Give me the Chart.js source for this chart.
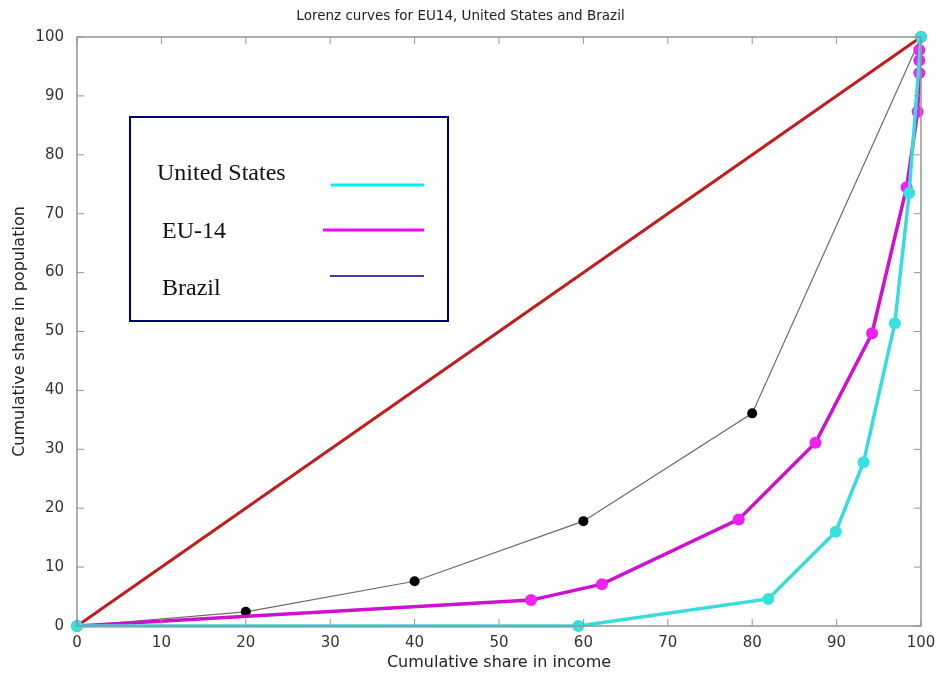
<!DOCTYPE html>
<html>
<head>
<meta charset="utf-8">
<script src="https://cdn.jsdelivr.net/npm/chart.js@4/dist/chart.umd.min.js"></script>
<style>
  html, body { margin: 0; padding: 0; background: #fff; }
  #wrap { width: 938px; height: 677px; }
</style>
</head>
<body>
<div id="wrap"><canvas id="lorenz" width="938" height="677"></canvas></div>
<script>
// ---- data ----
const usIncome   = [0, 59.4, 81.9, 89.9, 93.2, 96.9, 98.6, 100];
const usPop      = [0, 0, 4.6, 16.0, 27.8, 51.4, 73.5, 100];
const euIncome   = [0, 53.8, 62.2, 78.4, 87.5, 94.2, 98.3, 99.6, 99.8, 99.8, 99.8, 100];
const euPop      = [0, 4.4, 7.1, 18.1, 31.1, 49.7, 74.5, 87.3, 93.9, 96.0, 97.8, 100];
const brIncome   = [0, 20, 40, 60, 80, 100];
const brPop      = [0, 2.4, 7.6, 17.8, 36.1, 100];
const eqIncome   = [0, 100];
const eqPop      = [0, 100];
const axisTicks  = [0, 10, 20, 30, 40, 50, 60, 70, 80, 90, 100];
const legendItems = ['United States', 'EU-14', 'Brazil'];

const pts = (xs, ys) => xs.map((x, i) => ({ x, y: ys[i] }));

// box around the plot + inward ticks, matlab style
const axesBox = {
  id: 'axesBox',
  afterDraw(chart) {
    const { ctx, chartArea: a, scales } = chart;
    ctx.save();
    ctx.strokeStyle = '#959595';
    ctx.lineWidth = 1.5;
    ctx.strokeRect(a.left, a.top, a.right - a.left, a.bottom - a.top);
    ctx.lineWidth = 1;
    axisTicks.forEach(t => {
      const px = scales.x.getPixelForValue(t);
      const py = scales.y.getPixelForValue(t);
      ctx.beginPath();
      ctx.moveTo(px, a.bottom); ctx.lineTo(px, a.bottom - 7);
      ctx.moveTo(px, a.top); ctx.lineTo(px, a.top + 7);
      ctx.moveTo(a.left, py); ctx.lineTo(a.left + 7, py);
      ctx.moveTo(a.right, py); ctx.lineTo(a.right - 7, py);
      ctx.stroke();
    });
    ctx.restore();
  }
};

// the boxed legend with serif text
const boxLegend = {
  id: 'boxLegend',
  afterDraw(chart) {
    const { ctx } = chart;
    ctx.save();
    ctx.fillStyle = '#fff';
    ctx.fillRect(130, 117, 318, 204);
    ctx.strokeStyle = '#00007a';
    ctx.lineWidth = 2;
    ctx.strokeRect(130, 117, 318, 204);
    ctx.fillStyle = '#111';
    ctx.font = '24px "Liberation Serif", "Times New Roman", serif';
    ctx.textBaseline = 'alphabetic';
    const rows = [
      { y: 180, tx: 157, lx0: 331, ly: 185, color: '#00f0f0', w: 3 },
      { y: 238, tx: 162, lx0: 323, ly: 230, color: '#ff00ff', w: 3 },
      { y: 295, tx: 162, lx0: 330, ly: 276, color: '#000080', w: 1.5 }
    ];
    rows.forEach((r, i) => {
      ctx.fillText(legendItems[i], r.tx, r.y);
      ctx.strokeStyle = r.color;
      ctx.lineWidth = r.w;
      ctx.beginPath();
      ctx.moveTo(r.lx0, r.ly); ctx.lineTo(424, r.ly);
      ctx.stroke();
    });
    ctx.restore();
  }
};

const sansFont = '"DejaVu Sans", Verdana, sans-serif';

new Chart(document.getElementById('lorenz'), {
  type: 'line',
  data: {
    datasets: [
      {
        label: 'United States', data: pts(usIncome, usPop),
        borderColor: '#38dcdc', backgroundColor: '#38e0e0', borderWidth: 3.5,
        pointRadius: 6, pointBorderWidth: 0, tension: 0, clip: 10
      },
      {
        label: 'EU-14', data: pts(euIncome, euPop),
        borderColor: '#d010d0', backgroundColor: '#f020f0', borderWidth: 3.5,
        pointRadius: 6, pointBorderWidth: 0, tension: 0, clip: 10
      },
      {
        label: 'Brazil', data: pts(brIncome, brPop),
        borderColor: '#6a6a6a', backgroundColor: '#000', borderWidth: 1.2,
        pointRadius: 5, pointBorderWidth: 0, tension: 0, clip: 10
      },
      {
        label: 'Equality', data: pts(eqIncome, eqPop),
        borderColor: '#c21c1c', borderWidth: 3,
        pointRadius: 0, tension: 0, clip: 10
      }
    ]
  },
  options: {
    responsive: false,
    animation: false,
    layout: { padding: { right: 17 } },
    plugins: {
      legend: { display: false },
      tooltip: { enabled: false },
      title: {
        display: true,
        text: 'Lorenz curves for EU14, United States and Brazil',
        color: '#222',
        font: { family: sansFont, size: 13.5, weight: 'normal' },
        padding: { top: 8, bottom: 12.8 }
      }
    },
    scales: {
      x: {
        type: 'linear', min: 0, max: 100,
        afterBuildTicks: s => { s.ticks = axisTicks.map(v => ({ value: v })); },
        afterFit: s => { s.height = 51; },
        grid: { display: false },
        border: { display: false },
        ticks: { color: '#333', font: { family: sansFont, size: 15 }, padding: 0, maxRotation: 0 },
        title: {
          display: true, text: 'Cumulative share in income', color: '#222',
          font: { family: sansFont, size: 16 }, padding: { top: 0, bottom: 5 }
        }
      },
      y: {
        type: 'linear', min: 0, max: 100,
        afterBuildTicks: s => { s.ticks = axisTicks.map(v => ({ value: v })); },
        afterFit: s => { s.width = 77; },
        grid: { display: false },
        border: { display: false },
        ticks: { color: '#333', font: { family: sansFont, size: 15 }, padding: 5 },
        title: {
          display: true, text: 'Cumulative share in population', color: '#222',
          font: { family: sansFont, size: 16 }, padding: { top: 10, bottom: 0 }
        }
      }
    }
  },
  plugins: [axesBox, boxLegend]
});
</script>
</body>
</html>
